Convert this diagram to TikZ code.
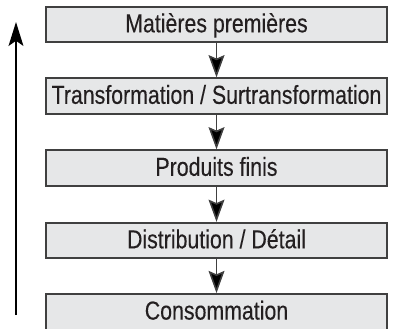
\documentclass[tikz,border=0pt]{standalone}
\usepackage{xcolor}
\usepackage{fontspec}
\setmainfont{Liberation Sans}[FakeStretch=0.82,FakeBold=0.2]
\usetikzlibrary{arrows.meta,positioning}

\definecolor{r230g231b232}{rgb}{0.901961,0.905882,0.909804}
\definecolor{r64g64b64}{rgb}{0.250980,0.250980,0.250980}
\definecolor{r35g31b32}{rgb}{0.137255,0.121569,0.125490}

\tikzset{
  etape/.style={draw=r64g64b64, fill=r230g231b232, line width=0.065cm,
    minimum width=11.985000cm, minimum height=1.248000cm,
    text height=19pt, text depth=3.4pt, inner sep=0pt, text=r35g31b32},
  fleche/.style={draw=r64g64b64, line width=0.055cm,
    -{Stealth[length=0.780000cm, width=0.560000cm, inset=0.120000cm, fill=black]}}
}

\begin{document}
\begin{tikzpicture}
                        \useasboundingbox (0,0) rectangle (14.550000,11.528000);
                        \clip (0,0) rectangle (14.550000,11.528000);
                        {\fontsize{26}{30}\selectfont

                        % Drawing box Matieres premieres
                        \node [etape] (mat) at (7.609000,10.667000) {Matières premières};%

                        % Drawing box Transformation
                        \node [etape] (trans) at (7.609000,8.154000) {Transformation / Surtransformation};%

                        % Drawing box Produits finis
                        \node [etape] (prod) at (7.609000,5.623000) {Produits finis};%

                        % Drawing box Distribution
                        \node [etape] (dist) at (7.609000,3.075000) {Distribution / Détail};%

                        % Drawing box Consommation
                        \node [etape] (cons) at (7.609000,0.571000) {Consommation};%

                        % Drawing arrows between boxes
                        \draw [fleche] (mat) -- (trans);%
                        \draw [fleche] (trans) -- (prod);%
                        \draw [fleche] (prod) -- (dist);%
                        \draw [fleche] (dist) -- (cons);%

                        % Drawing long arrow on the left
                        \coordinate (bas) at (0.562000,0.457000);
                        \coordinate (haut) at (0.562000,10.755000);
                        \draw [line width=0.065cm, -{Stealth[length=0.840000cm, width=0.520000cm, inset=0.180000cm]}] (bas) -- (haut);%
                        }
                    \end{tikzpicture}
\end{document}
